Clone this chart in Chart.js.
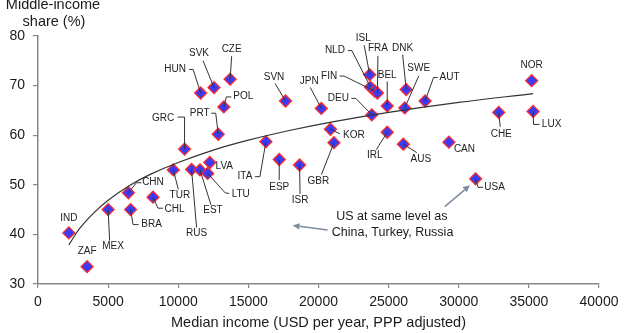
<!DOCTYPE html>
<html><head><meta charset="utf-8">
<script src="https://cdn.jsdelivr.net/npm/chart.js@4/dist/chart.umd.min.js"></script>
<style>html,body{margin:0;padding:0;background:#fff}#wrap{width:640px;height:333px;position:relative}</style>
</head><body><div id="wrap"><canvas id="c" width="640" height="333"></canvas></div>
<script>
// ---- data ----
const countries = ["IND","ZAF","MEX","BRA","CHN","CHL","TUR","RUS","EST","LTU","LVA","GRC","PRT","HUN","SVK","CZE","POL","SVN","ITA","ESP","ISR","GBR","KOR","JPN","DEU","ISL","NLD","FIN","FRA","BEL","DNK","SWE","AUT","IRL","AUS","CAN","USA","CHE","LUX","NOR"];
const medianIncome = [2200,3500,5000,6600,6450,8200,9650,10950,11550,12100,12250,10450,12850,11600,12550,13700,13250,17650,16250,17200,18650,21100,20850,20200,23800,23650,23700,24000,24200,24900,26250,26150,27600,24900,26050,29300,31200,32850,35300,35200];
const middleShare = [40.3,33.5,45.0,45.0,48.4,47.5,53.0,53.1,53.0,52.3,54.5,57.2,60.2,68.5,69.6,71.3,65.7,66.9,58.7,55.1,54.0,58.5,61.2,65.4,64.1,72.2,69.7,68.9,68.5,65.9,69.2,65.5,66.9,60.6,58.2,58.6,51.2,64.6,64.8,71.0];
const trendIncome = [2200,3000,4000,5000,6500,8000,10000,12500,15000,18000,21000,25000,30000,35300];
const trendShare = [37.9,41.3,44.4,46.9,49.8,52.1,54.5,57.0,59.0,61.0,62.7,64.6,66.6,68.4];
const xTickValues = [0,5000,10000,15000,20000,25000,30000,35000,40000];
const yTickValues = [30,40,50,60,70,80];
const xTitle = "Median income (USD per year, PPP adjusted)";
const yTitleLines = ["Middle-income","share (%)"];
const noteLines = ["US at same level as","China, Turkey, Russia"];
const noteAnchorIncome = [25230,25280];
const noteAnchorShare = [43.5,40.4];
const arrowFromIncome = [20650,29000];
const arrowFromShare = [40.9,45.6];
const arrowToIncome = [18150,30800];
const arrowToShare = [41.8,49.9];

// ---- label placement (pixel offsets from each point) ----
const labelLayout = {
  IND:{dx:0,dy:-15,lead:[]}, ZAF:{dx:0,dy:-15,lead:[]},
  MEX:{dx:5,dy:37,lead:[[1.5,31]]}, BRA:{dx:21,dy:15,lead:[[8,15],[2.5,15]]},
  CHN:{dx:24.5,dy:-10.5,lead:[[13,-10],[8,-10]]}, CHL:{dx:21.5,dy:12,lead:[[10,11],[5,11]]},
  TUR:{dx:6.5,dy:25,lead:[[5,19.5]]}, RUS:{dx:5,dy:64,lead:[[5,58]]},
  EST:{dx:13,dy:40.5,lead:[[11,35]]}, LTU:{dx:33,dy:20.5,lead:[[21.5,20],[17.5,19.5]]},
  LVA:{dx:14.5,dy:3.5,lead:[]}, GRC:{dx:-21.5,dy:-31,lead:[[-7,-32],[0,-32]]},
  PRT:{dx:-18.5,dy:-21,lead:[[-7,-21],[-2.5,-21]]}, HUN:{dx:-25.5,dy:-23.5,lead:[[-11.5,-23.5],[-7.5,-23.5]]},
  SVK:{dx:-15,dy:-34,lead:[[-11,-27]]}, CZE:{dx:1.5,dy:-29.5,lead:[[1.5,-23]]},
  POL:{dx:19.5,dy:-10.5,lead:[[7.5,-10],[2.5,-10]]}, SVN:{dx:-11.5,dy:-23.5,lead:[[-10.5,-17.5]]},
  ITA:{dx:-21,dy:35,lead:[[-11,35],[-6,35]]}, ESP:{dx:0,dy:27.5,lead:[[0,20.5]]},
  ISR:{dx:0.5,dy:35,lead:[[0.5,29]]}, GBR:{dx:-15.5,dy:38.5,lead:[[-12.5,32]]},
  KOR:{dx:23.5,dy:6.5,lead:[[9.5,4.5]]}, JPN:{dx:-12,dy:-27.5,lead:[[-11,-21]]},
  DEU:{dx:-33.5,dy:-16.5,lead:[[-20.5,-16.5],[-16,-16.5]]}, ISL:{dx:-6.5,dy:-36,lead:[[-5.5,-29.5]]},
  NLD:{dx:-35.5,dy:-36.5,lead:[[-22.5,-36.5],[-18.5,-36.5]]}, FIN:{dx:-45.5,dy:-15,lead:[[-35,-15],[-30.5,-15]]},
  FRA:{dx:0.5,dy:-44.5,lead:[[0.5,-37]]}, BEL:{dx:0,dy:-31,lead:[[0,-24.5]]},
  DNK:{dx:-3.5,dy:-41.5,lead:[[-3.5,-35]]}, SWE:{dx:14,dy:-39.5,lead:[[14,-32]]},
  AUT:{dx:24.5,dy:-23.5,lead:[[12.5,-23.5],[8.5,-23.5]]}, IRL:{dx:-12.5,dy:23.5,lead:[[-11,17.5]]},
  AUS:{dx:17.5,dy:15,lead:[[13.5,8.5]]}, CAN:{dx:15.5,dy:7,lead:[]},
  USA:{dx:19,dy:8.5,lead:[[7.5,8.5],[2.5,8.5]]}, CHE:{dx:2.5,dy:21.5,lead:[[1.5,14.5]]},
  LUX:{dx:18.5,dy:13,lead:[[6.5,13],[0.5,13]]}, NOR:{dx:0,dy:-15.5,lead:[]}
};

const FONT = "'Liberation Sans', Arial, sans-serif";
const AXIS_COLOR = '#878787';

const overlay = {
  id: 'overlay',
  afterDatasetsDraw(chart) {
    const ctx = chart.ctx;
    const meta = chart.getDatasetMeta(1);
    ctx.save();
    ctx.strokeStyle = '#333';
    ctx.lineWidth = 1;
    ctx.fillStyle = '#222';
    ctx.font = '10px ' + FONT;
    ctx.textAlign = 'center';
    ctx.textBaseline = 'middle';
    countries.forEach((c, i) => {
      const el = meta.data[i];
      const L = labelLayout[c];
      if (!el || !L) return;
      const px = el.x, py = el.y;
      if (L.lead.length) {
        ctx.beginPath();
        ctx.moveTo(px + L.lead[0][0], py + L.lead[0][1]);
        for (let k = 1; k < L.lead.length; k++) ctx.lineTo(px + L.lead[k][0], py + L.lead[k][1]);
        ctx.lineTo(px, py);
        ctx.stroke();
      }
      ctx.fillText(c, px + L.dx, py + L.dy);
    });
    ctx.restore();
  },
  afterDraw(chart) {
    const ctx = chart.ctx;
    const xs = chart.scales.x, ys = chart.scales.y;
    ctx.save();
    ctx.fillStyle = '#1a1a1a';
    ctx.font = '14.5px ' + FONT;
    ctx.textAlign = 'center';
    ctx.textBaseline = 'alphabetic';
    ctx.fillText(xTitle, (chart.chartArea.left + chart.chartArea.right) / 2, 327);
    ctx.fillText(yTitleLines[0], 53, 9);
    ctx.fillText(yTitleLines[1], 54, 26);
    ctx.font = '12.5px ' + FONT;
    ctx.textBaseline = 'middle';
    noteLines.forEach((t, i) => {
      ctx.fillText(t, xs.getPixelForValue(noteAnchorIncome[i]), ys.getPixelForValue(noteAnchorShare[i]));
    });
    ctx.strokeStyle = '#7d8ba0';
    ctx.fillStyle = '#7d8ba0';
    ctx.lineWidth = 1.5;
    for (let i = 0; i < arrowFromIncome.length; i++) {
      const x1 = xs.getPixelForValue(arrowFromIncome[i]), y1 = ys.getPixelForValue(arrowFromShare[i]);
      const x2 = xs.getPixelForValue(arrowToIncome[i]), y2 = ys.getPixelForValue(arrowToShare[i]);
      const a = Math.atan2(y2 - y1, x2 - x1);
      const hl = 7, hw = 3.2;
      const bx = x2 - hl * Math.cos(a), by = y2 - hl * Math.sin(a);
      ctx.beginPath(); ctx.moveTo(x1, y1); ctx.lineTo(bx, by); ctx.stroke();
      ctx.beginPath();
      ctx.moveTo(x2, y2);
      ctx.lineTo(bx + hw * Math.sin(a), by - hw * Math.cos(a));
      ctx.lineTo(bx - hw * Math.sin(a), by + hw * Math.cos(a));
      ctx.closePath(); ctx.fill();
    }
    ctx.restore();
  }
};

new Chart(document.getElementById('c'), {
  type: 'scatter',
  data: {
    datasets: [
      {
        type: 'line',
        label: 'trend',
        data: trendIncome.map((x, i) => ({x, y: trendShare[i]})),
        borderColor: '#333',
        borderWidth: 1.2,
        pointRadius: 0,
        tension: 0.4,
        fill: false,
        order: 0
      },
      {
        label: 'countries',
        data: medianIncome.map((x, i) => ({x, y: middleShare[i]})),
        pointStyle: 'rectRot',
        pointRadius: 6,
        pointHoverRadius: 6,
        backgroundColor: '#3a3cf5',
        borderColor: '#ff2a2a',
        borderWidth: 1.3,
        order: 1
      }
    ]
  },
  options: {
    responsive: false,
    animation: false,
    devicePixelRatio: 1,
    layout: { padding: { top: 36, right: 41, left: 0, bottom: 0 } },
    plugins: { legend: { display: false }, tooltip: { enabled: false } },
    scales: {
      x: {
        type: 'linear', min: 0, max: 40000,
        afterBuildTicks: s => { s.ticks = xTickValues.map(v => ({value: v})); },
        afterFit: s => { s.height = 49; },
        grid: { display: true, drawOnChartArea: false, drawTicks: true, tickLength: 4, color: AXIS_COLOR, lineWidth: 1.2 },
        border: { display: true, color: AXIS_COLOR, width: 1.5 },
        ticks: { color: '#1a1a1a', font: { family: FONT, size: 14 }, padding: 6, maxRotation: 0, autoSkip: false, callback: v => String(v) }
      },
      y: {
        type: 'linear', min: 30, max: 80,
        afterBuildTicks: s => { s.ticks = yTickValues.map(v => ({value: v})); },
        afterFit: s => { s.width = 38; },
        grid: { display: true, drawOnChartArea: false, drawTicks: true, tickLength: 5, color: AXIS_COLOR, lineWidth: 1.2 },
        border: { display: true, color: AXIS_COLOR, width: 1.5 },
        ticks: { color: '#1a1a1a', font: { family: FONT, size: 14 }, padding: 8, callback: v => String(v) }
      }
    }
  },
  plugins: [overlay]
});
</script></body></html>
